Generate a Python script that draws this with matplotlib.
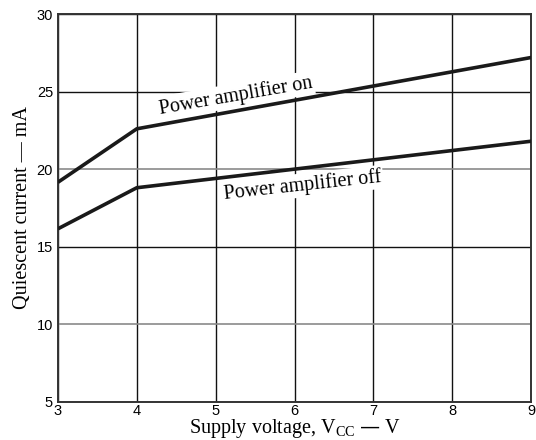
# quiescent current vs supply voltage
import matplotlib
matplotlib.use("Agg")
import matplotlib.pyplot as plt

# data
vcc = [3, 4, 9]
amp_on = [19.15, 22.6, 27.2]
amp_off = [16.15, 18.8, 21.8]
xticks = [3, 4, 5, 6, 7, 8, 9]
yticks = [5, 10, 15, 20, 25, 30]

serif = "Liberation Serif"
sans = "Liberation Sans"

fig = plt.figure(figsize=(5.36, 4.4), dpi=100)
ax = fig.add_axes([0.108, 0.087, 0.883, 0.881])

ax.plot(vcc, amp_on, color="#1a1a1a", lw=2.6, zorder=4, solid_capstyle="butt")
ax.plot(vcc, amp_off, color="#1a1a1a", lw=2.6, zorder=4, solid_capstyle="butt")

ax.set_xlim(3, 9)
ax.set_ylim(5, 30)
ax.set_xticks(xticks)
ax.set_yticks(yticks)
ax.grid(True, color="#111111", lw=1.0, zorder=1)
ax.set_axisbelow(True)
# the 10 and 20 rows look lighter in the original
for i, g in enumerate(ax.get_ygridlines()):
    if yticks[i] in (10, 20):
        g.set_color("#8a8a8a")
        g.set_linewidth(1.2)
ax.tick_params(length=0, labelsize=10.5)
ax.tick_params(axis="y", pad=3.5)
ax.tick_params(axis="x", pad=2)
for lab in ax.get_xticklabels() + ax.get_yticklabels():
    lab.set_fontname(sans)
for s in ax.spines.values():
    s.set_linewidth(1.4)
    s.set_color("#333333")

# line labels with white boxes that hide the grid behind them
box = dict(facecolor="white", edgecolor="none", pad=1.5)
ax.text(5.25, 24.75, "Power amplifier on", rotation=9.8, ha="center", va="center",
        fontsize=14.5, fontname=serif, bbox=box, zorder=3)
ax.text(6.1, 18.95, "Power amplifier off", rotation=6.2, ha="center", va="center",
        fontsize=14.5, fontname=serif, bbox=box, zorder=3)

ax.set_xlabel(r"Supply voltage, V$_\mathregular{CC}$ — V", fontsize=14.5, fontname=serif, labelpad=-1)
ax.set_ylabel("Quiescent current — mA", fontsize=14.5, fontname=serif, labelpad=3)

plt.savefig("out.png", dpi=100)
